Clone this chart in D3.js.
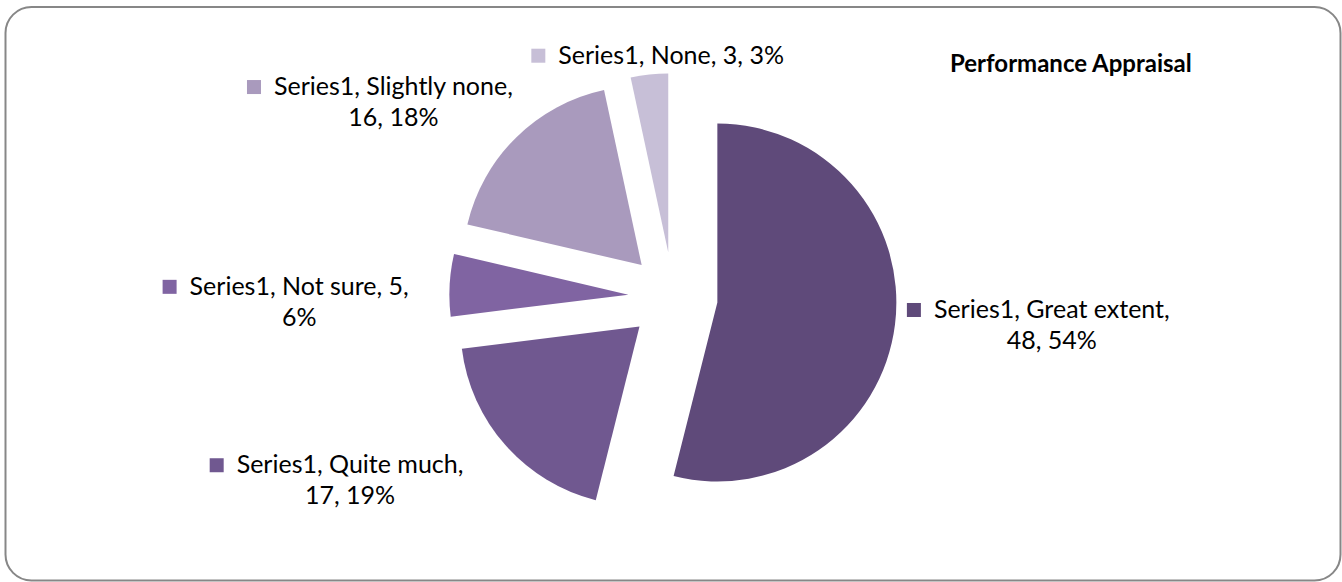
<!DOCTYPE html>
<html>
<head>
<meta charset="utf-8">
<script src="https://cdn.jsdelivr.net/npm/d3@7"></script>
<style>
  html, body { margin: 0; padding: 0; background: #fff; }
  svg { display: block; }
  text { font-family: Lato, "Open Sans", sans-serif; fill: #000; }
</style>
</head>
<body>
<svg id="chart" width="1342" height="582"></svg>
<script>
// ---- data ----
const seriesName = "Series1";
const categories = ["Great extent", "Quite much", "Not sure", "Slightly none", "None"];
const values = [48, 17, 5, 16, 3];
const percentLabels = ["54%", "19%", "6%", "18%", "3%"];
const title = "Performance Appraisal";

// ---- styles / layout ----
const colors = ["#5f4a7a", "#705890", "#8064a2", "#a99abd", "#c7bfd7"];
const W = 1342, H = 582;
const cx = 673, cy = 297, R = 179, explode = 44.7;
const fontSize = 25, lineH = 31, keySize = 14, keyGap = 13;
// label text lines (how Excel wrapped them)
const labelLines = [
  [`${seriesName}, ${categories[0]},`, `${values[0]}, ${percentLabels[0]}`],
  [`${seriesName}, ${categories[1]},`, `${values[1]}, ${percentLabels[1]}`],
  [`${seriesName}, ${categories[2]}, ${values[2]},`, `${percentLabels[2]}`],
  [`${seriesName}, ${categories[3]},`, `${values[3]}, ${percentLabels[3]}`],
  [`${seriesName}, ${categories[4]}, ${values[4]}, ${percentLabels[4]}`]
];
// fine adjustments of label boxes (best-fit placement)
const labelNudge = [[0, -3], [-64, 8], [-28, 21], [-34, -2], [23, 11]];

const svg = d3.select("#chart");

svg.append("rect")
  .attr("x", 5.5).attr("y", 7).attr("width", 1335).attr("height", 573.5)
  .attr("rx", 26).attr("ry", 26)
  .attr("fill", "#fff").attr("stroke", "#878787").attr("stroke-width", 2);

const pie = d3.pie().sort(null).value(d => d)(values);
const arc = d3.arc().innerRadius(0).outerRadius(R);

const g = svg.append("g").attr("transform", `translate(${cx},${cy})`);
g.selectAll("path.slice").data(pie).join("path")
  .attr("class", "slice")
  .attr("d", arc)
  .attr("fill", (d, i) => colors[i])
  .attr("transform", d => {
    const a = (d.startAngle + d.endAngle) / 2;
    return `translate(${explode * Math.sin(a)},${-explode * Math.cos(a)})`;
  });

// labels
const labelR = R + explode + 13;
pie.forEach((d, i) => {
  const a = (d.startAngle + d.endAngle) / 2;
  const s = Math.sin(a), c = Math.cos(a);
  const ax = cx + labelR * s, ay = cy - labelR * c;
  const lg = svg.append("g");
  const lines = labelLines[i];
  const t1 = lg.append("text").attr("font-size", fontSize).text(lines[0]);
  const w1 = t1.node().getComputedTextLength();
  const w = keySize + keyGap + w1;
  const h = lines.length * lineH;
  const left = ax - w * (1 - s) / 2 + labelNudge[i][0];
  const top = ay - h * (1 + c) / 2 + labelNudge[i][1];
  const base1 = top + 22;
  const textCx = left + keySize + keyGap + w1 / 2;
  t1.attr("x", textCx).attr("y", base1).attr("text-anchor", "middle");
  lines.slice(1).forEach((ln, k) => {
    lg.append("text").attr("font-size", fontSize)
      .attr("x", textCx).attr("y", base1 + lineH * (k + 1))
      .attr("text-anchor", "middle").text(ln);
  });
  lg.append("rect")
    .attr("x", left).attr("y", base1 - keySize - 1)
    .attr("width", keySize).attr("height", keySize)
    .attr("fill", colors[i]);
});

svg.append("text")
  .attr("x", 950).attr("y", 72)
  .attr("font-size", 24).attr("font-weight", "bold")
  .text(title);
</script>
</body>
</html>
